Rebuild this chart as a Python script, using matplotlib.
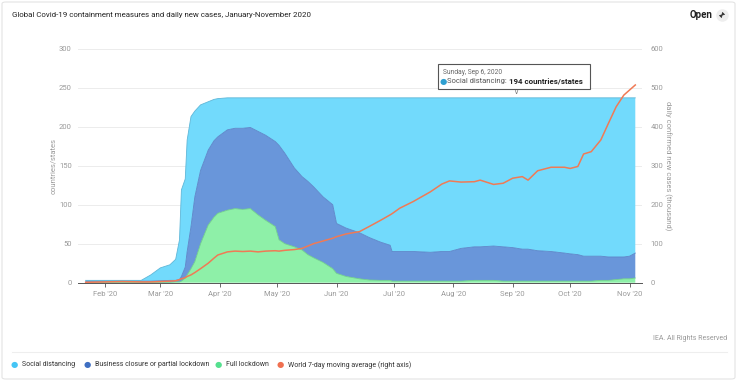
import datetime as dt
import matplotlib
matplotlib.use("Agg")
import matplotlib.pyplot as plt
from matplotlib.patches import FancyBboxPatch, FancyArrowPatch

plt.rcParams['font.family'] = ['Roboto', 'DejaVu Sans']

# data
dates = ["2020-01-22", "2020-02-01", "2020-02-10", "2020-02-20", "2020-02-25", "2020-03-01",
         "2020-03-06", "2020-03-09", "2020-03-11", "2020-03-12", "2020-03-14", "2020-03-15",
         "2020-03-17", "2020-03-19", "2020-03-22", "2020-03-26", "2020-03-29", "2020-03-31",
         "2020-04-05", "2020-04-09", "2020-04-13", "2020-04-17", "2020-04-21", "2020-04-25",
         "2020-04-30", "2020-05-02", "2020-05-05", "2020-05-10", "2020-05-14", "2020-05-17",
         "2020-05-20", "2020-05-25", "2020-05-30", "2020-06-01", "2020-06-06", "2020-06-13",
         "2020-06-18", "2020-06-24", "2020-06-29", "2020-06-30", "2020-07-04", "2020-07-11",
         "2020-07-20", "2020-07-26", "2020-07-30", "2020-08-05", "2020-08-12", "2020-08-15",
         "2020-08-22", "2020-08-27", "2020-09-01", "2020-09-06", "2020-09-09", "2020-09-14",
         "2020-09-21", "2020-09-28", "2020-10-01", "2020-10-05", "2020-10-08", "2020-10-12",
         "2020-10-17", "2020-10-21", "2020-10-25", "2020-10-29", "2020-11-01", "2020-11-04"]

social_distancing = [1, 1, 1, 1, 8, 16.5, 20, 27, 51, 111, 113, 143, 141, 110, 84, 62, 53, 49,
                     41, 39, 39, 38, 43, 48, 56, 61, 71, 90, 101, 107, 114, 127, 137, 161, 167, 173,
                     179, 185, 189, 197, 197, 197, 198, 197, 197, 193, 191, 191, 190, 191, 192, 194,
                     194, 196, 197, 199, 200, 201, 203, 203, 203, 204, 204, 204, 203, 199]
business_closure = [1.5, 1.5, 1.5, 1.5, 1.5, 2, 2.5, 2, 3, 6, 14, 30, 54, 83, 94, 96, 98, 98,
                    103, 103, 104, 104, 107, 109, 109, 121, 116, 101, 94, 94, 91, 84, 82, 64, 62, 59,
                    54.5, 49, 45, 38, 38, 38, 37, 38, 38, 42, 43, 43, 44, 44, 43, 41,
                    41, 39, 38, 36, 35, 34, 32, 32, 31, 30, 29, 28, 29, 32]
full_lockdown = [0.5, 0.5, 0.5, 0.5, 0.5, 0.5, 0.5, 1, 1, 2, 6, 10, 18, 27, 50, 74, 84, 89,
                 93, 95, 94, 95, 87, 80, 72, 55, 50, 46, 42, 36, 32, 26, 18, 12, 8, 5,
                 3.5, 3, 3, 2, 2, 2, 2, 2, 2, 2, 3, 3, 3, 2, 2, 2,
                 2, 2, 2, 2, 2, 2, 2, 2, 3, 3, 4, 5, 5, 6]
new_cases = [1, 2, 3, 2, 2, 3, 4, 5, 8, 10, 13, 16, 20, 26, 36, 50, 63, 71,
             79, 81, 80, 81, 79, 81, 82, 81, 83, 85, 88, 94, 100, 107, 114, 118, 125, 131,
             144, 160, 174, 177, 191, 208, 233, 253, 261, 258, 259, 263, 252, 255, 268, 272,
             263, 287, 296, 296, 293, 298, 330, 336, 366, 409, 451, 481, 494, 507]

series_names = ["Social distancing", "Business closure or partial lockdown", "Full lockdown",
                "World 7-day moving average (right axis)"]
month_ticks = ["2020-02-01", "2020-03-01", "2020-04-01", "2020-05-01", "2020-06-01",
               "2020-07-01", "2020-08-01", "2020-09-01", "2020-10-01", "2020-11-01"]
month_labels = ["Feb '20", "Mar '20", "Apr '20", "May '20", "Jun '20",
                "Jul '20", "Aug '20", "Sep '20", "Oct '20", "Nov '20"]

x = [dt.datetime.strptime(d, "%Y-%m-%d") for d in dates]
xt = [dt.datetime.strptime(d, "%Y-%m-%d") for d in month_ticks]

fill_cols = ['#8ef0a8', '#6996da', '#72dafc']
edge_cols = ['#6fd08a', '#5a84c8', '#5fb7d8']
dot_cols = ['#45c5f5', '#3f6fc2', '#55e08f', '#f07050']
grey = '#9a9a9a'

fig = plt.figure(figsize=(7.4, 3.84), dpi=100)
ax = fig.add_axes([78/740, 1-282.7/384, (642-78)/740, (282.7-48.7)/384])

ax.stackplot(x, full_lockdown, business_closure, social_distancing,
             colors=fill_cols, edgecolor=None, linewidth=0)
# thin outlines at the tops of each stack
lo = list(full_lockdown)
mid = [a + b for a, b in zip(full_lockdown, business_closure)]
top = [a + b + c for a, b, c in zip(full_lockdown, business_closure, social_distancing)]
for yy, c in zip([lo, mid, top], edge_cols):
    ax.plot(x, yy, color=c, lw=0.6)

ax.set_ylim(0, 300)
ax.set_xlim(dt.datetime(2020, 1, 18), dt.datetime(2020, 11, 7, 12))
ax.set_yticks([0, 50, 100, 150, 200, 250, 300])
ax.set_xticks(xt)
ax.set_xticklabels(month_labels)
ax.yaxis.grid(True, color='#ececec', lw=0.7)
ax.set_axisbelow(True)
for s in ['top', 'right', 'left']:
    ax.spines[s].set_visible(False)
ax.spines['bottom'].set_color('#555555')
ax.spines['bottom'].set_linewidth(0.7)
ax.tick_params(axis='x', colors='#555555', labelcolor=grey, labelsize=5.5, length=3, width=0.6, pad=3)
ax.tick_params(axis='y', length=0, labelcolor=grey, labelsize=5.5, pad=4.5)
ax.set_ylabel("countries/states", color=grey, fontsize=5.5, labelpad=2)

ax2 = ax.twinx()
ax2.plot(x, new_cases, color='#f07a55', lw=1.1)
ax2.set_ylim(0, 600)
ax2.set_yticks([0, 100, 200, 300, 400, 500, 600])
for s in ax2.spines.values():
    s.set_visible(False)
ax2.tick_params(axis='y', length=0, labelcolor=grey, labelsize=5.5, pad=6)
ax2.set_ylabel("daily confirmed new cases (thousand)", color=grey, fontsize=5.5,
               rotation=270, labelpad=6)

# titles
fig.text(12/740, 1-15/384, "Global Covid-19 containment measures and daily new cases, January-November 2020",
         fontsize=5.7, color='#222222', va='center')
fig.text(713/740, 1-15/384, "Open", fontsize=7, fontweight='bold', color='#222222', va='center', ha='right')
fig.add_artist(plt.Line2D([722/740], [1-15/384], marker='o', ms=9, color='#eeeeee', mec='none', zorder=8))
fig.add_artist(FancyArrowPatch((719.5/740, 1-17.5/384), (724.5/740, 1-12.5/384),
                               transform=fig.transFigure, arrowstyle='<|-|>,head_length=1.5,head_width=1',
                               color='#333333', lw=0.6, zorder=9))

# tooltip
tip = FancyBboxPatch((438/740, 1-89/384), (590-438)/740, (89-64)/384,
                     boxstyle="square,pad=0", transform=fig.transFigure,
                     facecolor='white', edgecolor='#555555', lw=0.8, zorder=5)
fig.patches.append(tip)
fig.text(443/740, 1-72.5/384, "Sunday, Sep 6, 2020", fontsize=4.8, color='#666666', va='center', zorder=6)
fig.text(443/740, 1-81.5/384, "\u25cf", fontsize=6, color='#2f9fd0', va='center', ha='center', zorder=6)
t1 = fig.text(447/740, 1-81.5/384, "Social distancing: ", fontsize=5.5, color='#555555', va='center', zorder=6)
fig.add_artist(plt.Annotation("194 countries/states", xy=(1, 0.5), xycoords=t1, fontsize=5.7,
                              color='#222222', fontweight='bold', va='center', ha='left', zorder=6))
fig.text(516/740, 1-92/384, "\u2228", fontsize=5, color='#777777', va='center', ha='center', zorder=6)

# footer
fig.text(727/740, 1-339/384, "IEA. All Rights Reserved", fontsize=5, color=grey, ha='right', va='center')
fig.add_artist(plt.Line2D([12/740, 727/740], [1-352/384, 1-352/384], color='#eeeeee', lw=0.8))
leg_x = [14, 87, 218, 280]
for xm, name, c in zip(leg_x, series_names, dot_cols):
    fig.text(xm/740, 1-365/384, "\u25cf", fontsize=6, color=c, ha='center', va='center')
    fig.text((xm+8)/740, 1-365/384, name, fontsize=5.0, color='#333333', va='center')

# outer frame
frame = FancyBboxPatch((2/740, 1-379/384), 733/740, 377/384, boxstyle="round,pad=0,rounding_size=0.005",
                       transform=fig.transFigure, facecolor='none', edgecolor='#e4e4e4', lw=0.8)
fig.patches.append(frame)

fig.savefig("out.png", dpi=100)
